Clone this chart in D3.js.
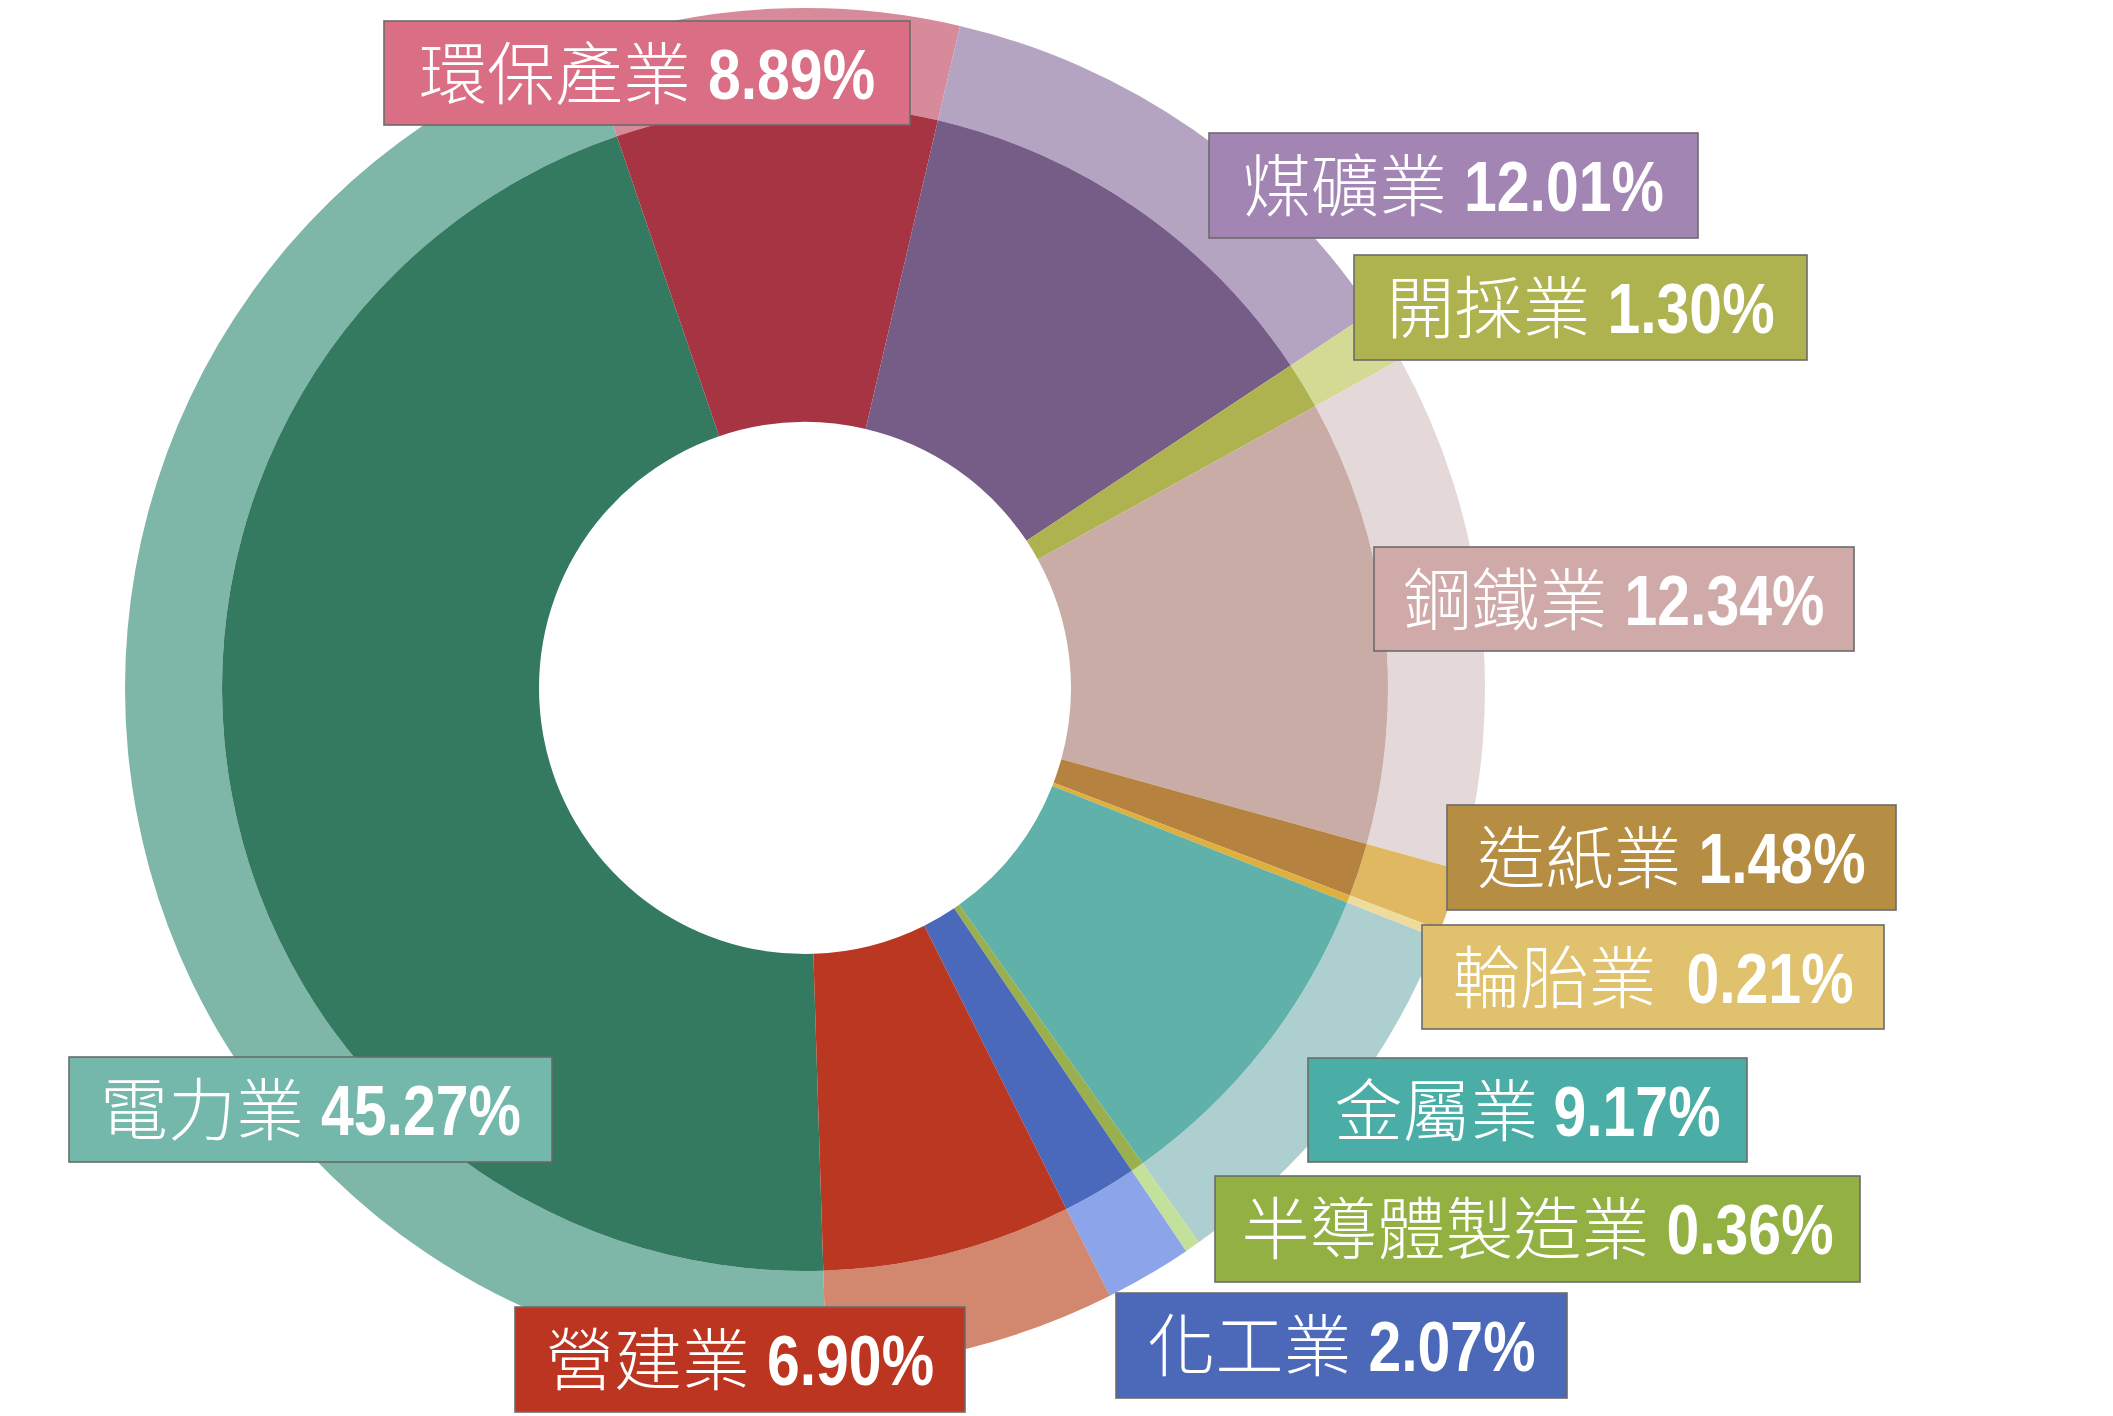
<!DOCTYPE html>
<html><head><meta charset="utf-8">
<script src="https://cdn.jsdelivr.net/npm/d3@7"></script>
<style>html,body{margin:0;padding:0;background:#fff;overflow:hidden}</style>
</head><body>
<svg id="chart" width="2113" height="1416"></svg>
<script>
// ---- data (clockwise from the bottom) ----
const categories = ["電力業","環保產業","煤礦業","開採業","鋼鐵業","造紙業","輪胎業","金屬業","半導體製造業","化工業","營建業"];
const shares = [45.27, 8.89, 12.01, 1.30, 12.34, 1.48, 0.21, 9.17, 0.36, 2.07, 6.90];
const shareLabels = ["45.27%","8.89%","12.01%","1.30%","12.34%","1.48%","0.21%","9.17%","0.36%","2.07%","6.90%"];

// ---- styles ----
const innerColors = ["#347A60","#A73442","#765D87","#AFB34F","#C9ACA6","#B5833F","#DDB040","#5FB1AA","#9AB04E","#4B69BA","#BA3822"];
const outerColors = ["#7EB6A8","#D68A9A","#B4A4C2","#D4DA94","#E4D9D8","#E1B862","#EDDC9C","#AECFCF","#C3E19A","#8BA4EA","#D2876F"];
const boxColors   = ["#74B8AC","#DA6E84","#A285B3","#AFB34F","#D0AAA9","#B58E43","#E0C26E","#4AADA6","#93B043","#4B69B8","#BC3520"];
const gapPx = [17,17,17,17,17,17,30,15,17,17,17];
// label box layout [left, top, width, height]
const boxLayout = [
  [69,1057,483,105],[384,21,526,104],[1209,133,489,105],[1354,255,453,105],
  [1374,547,480,104],[1447,805,449,105],[1422,925,462,104],[1308,1058,439,104],
  [1215,1176,645,106],[1116,1293,451,105],[515,1307,450,105]
];

const cx = 805, cy = 688, r0 = 266, r1 = 583, r2 = 680;
const startDeg = 178.2;
const digitScale = 0.83;

const svg = d3.select("#chart");
const data = categories.map((c,i)=>({name:c, value:shares[i], i}));
const pie = d3.pie().sort(null).value(d=>d.value)
  .startAngle(startDeg*Math.PI/180).endAngle(startDeg*Math.PI/180 + 2*Math.PI);
const arcs = pie(data);

const g = svg.append("g").attr("transform",`translate(${cx},${cy})`);
const arcOuter = d3.arc().innerRadius(r1).outerRadius(r2);
const arcInner = d3.arc().innerRadius(r0).outerRadius(r1);

g.selectAll("path.outer").data(arcs).join("path").attr("class","outer")
  .attr("d",arcOuter).attr("fill",d=>outerColors[d.data.i]);
g.selectAll("path.inner").data(arcs).join("path").attr("class","inner")
  .attr("d",arcInner).attr("fill",d=>innerColors[d.data.i]);

// labels
const lg = svg.append("g");
data.forEach((d,i)=>{
  const [x,y,w,h] = boxLayout[i];
  const bg = lg.append("g");
  bg.append("rect").attr("x",x).attr("y",y).attr("width",w).attr("height",h)
    .attr("fill",boxColors[i]).attr("stroke","#6b6b6b").attr("stroke-width",1.6);
  const base = y + 78;
  const t1 = bg.append("text").attr("y", base).attr("fill","#fff")
    .attr("font-family","'Noto Sans CJK TC','Noto Sans CJK SC',sans-serif")
    .attr("font-weight",300).attr("font-size",68).text(d.name);
  const t2 = bg.append("text").attr("fill","#fff")
    .attr("font-family","'Liberation Sans',Arial,sans-serif")
    .attr("font-weight",700).attr("font-size",71).text(shareLabels[i]);
  const w1 = t1.node().getComputedTextLength();
  const w2 = t2.node().getComputedTextLength()*digitScale;
  const total = w1 + gapPx[i] + w2;
  const x0 = x + (w - total)/2;
  t1.attr("x", x0);
  t2.attr("transform",`translate(${x0 + w1 + gapPx[i]},${base}) scale(${digitScale},1)`);
});
</script>
</body></html>
